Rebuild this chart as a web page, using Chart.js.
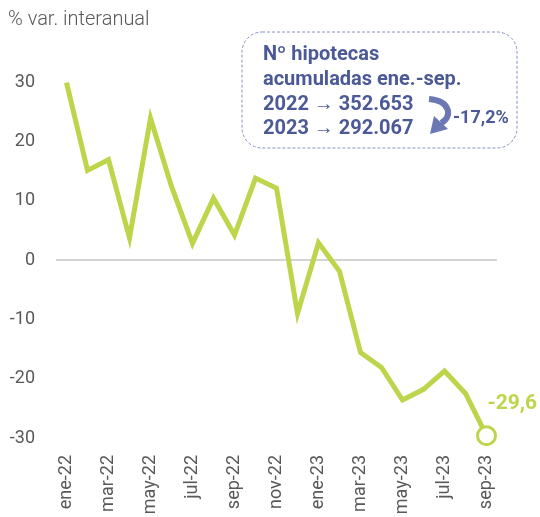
<!DOCTYPE html>
<html>
<head>
<meta charset="utf-8">
<script src="https://cdn.jsdelivr.net/npm/chart.js@4"></script>
<style>
  html, body { margin: 0; padding: 0; background: #fff; }
  #wrap { width: 540px; height: 517px; }
</style>
</head>
<body>
<div id="wrap"><canvas id="myChart" width="540" height="517"></canvas></div>
<script>
// meses ene-22 .. sep-23
const meses = ['ene-22','feb-22','mar-22','abr-22','may-22','jun-22','jul-22','ago-22','sep-22','oct-22','nov-22','dic-22',
               'ene-23','feb-23','mar-23','abr-23','may-23','jun-23','jul-23','ago-23','sep-23'];
// % variacion interanual
const variacion = [29.9, 15.1, 16.9, 3.7, 23.9, 12.4, 2.8, 10.4, 4.2, 13.8, 12.1, -9.0,
                   2.9, -1.9, -15.6, -18.1, -23.6, -21.8, -18.7, -22.5, -29.6];
const ticksY = [-30, -20, -10, 0, 10, 20, 30];

const verde = '#bdd54a';
const azul = '#4b5a96';
const gris = '#595959';

// textos y recuadro
const extras = {
    id: 'extras',
    afterDraw(chart) {
        const ctx = chart.ctx;
        ctx.save();
        ctx.fillStyle = gris;
        ctx.font = '300 20px Roboto';
        ctx.textBaseline = 'middle';
        ctx.fillText('% var. interanual', 8, 20);

        // recuadro punteado
        ctx.strokeStyle = '#8592c8';
        ctx.lineWidth = 1;
        ctx.setLineDash([3, 2]);
        ctx.beginPath();
        ctx.roundRect(242, 32, 275, 116, 20);
        ctx.stroke();
        ctx.setLineDash([]);

        ctx.fillStyle = azul;
        ctx.font = 'bold 20px Roboto';
        ctx.fillText('Nº hipotecas', 263, 55);
        ctx.fillText('acumuladas ene.-sep.', 263, 80);
        ctx.fillText('2022 \u2192 352.653', 263, 105);
        ctx.fillText('2023 \u2192 292.067', 263, 129);
        ctx.font = 'bold 18px Roboto';
        ctx.fillText('-17,2%', 453, 118);

        // flecha curva
        ctx.strokeStyle = '#6b78b4';
        ctx.fillStyle = '#6b78b4';
        ctx.lineWidth = 6;
        ctx.beginPath();
        ctx.moveTo(429, 99);
        ctx.bezierCurveTo(452, 101, 452, 118, 441, 123);
        ctx.stroke();
        ctx.beginPath();
        ctx.moveTo(430, 134);
        ctx.lineTo(434, 116);
        ctx.lineTo(448, 129);
        ctx.closePath();
        ctx.fill();

        // etiqueta ultimo valor
        const meta = chart.getDatasetMeta(0);
        const last = meta.data[meta.data.length - 1];
        ctx.fillStyle = verde;
        ctx.font = 'bold 21px Roboto';
        ctx.fillText(variacion[variacion.length - 1].toFixed(1).replace('.', ','), last.x + 1, last.y - 32);
        ctx.restore();
    }
};

const ctx = document.getElementById('myChart').getContext('2d');
const myChart = new Chart(ctx, {
    type: 'line',
    data: {
        labels: meses,
        datasets: [{
            data: variacion,
            borderColor: verde,
            borderWidth: 5,
            tension: 0,
            clip: false,
            pointRadius: c => c.dataIndex === variacion.length - 1 ? 9 : 0,
            pointBackgroundColor: '#fff',
            pointBorderColor: verde,
            pointBorderWidth: 3
        }]
    },
    options: {
        responsive: false,
        animation: false,
        layout: { padding: { top: 82, right: 43, bottom: 0, left: 0 } },
        plugins: { legend: { display: false }, tooltip: { enabled: false } },
        scales: {
            x: {
                offset: true,
                grid: { display: false },
                border: { display: false },
                ticks: {
                    autoSkip: false,
                    minRotation: 90,
                    maxRotation: 90,
                    padding: 9,
                    color: gris,
                    font: { family: 'Roboto', size: 18 },
                    callback: function (v, i) { return i % 2 === 0 ? meses[i] : ''; }
                },
                afterFit(axis) { axis.height = 79; }
            },
            y: {
                min: -30,
                max: 30,
                afterBuildTicks(axis) { axis.ticks = ticksY.map(v => ({ value: v })); },
                grid: {
                    drawTicks: false,
                    color: c => c.tick.value === 0 ? '#d4d4d4' : 'rgba(0,0,0,0)',
                    lineWidth: 2
                },
                border: { display: false },
                ticks: {
                    padding: 21,
                    color: gris,
                    font: { family: 'Roboto', size: 18 }
                },
                afterFit(axis) { axis.width = 56; }
            }
        }
    },
    plugins: [extras]
});
</script>
</body>
</html>
